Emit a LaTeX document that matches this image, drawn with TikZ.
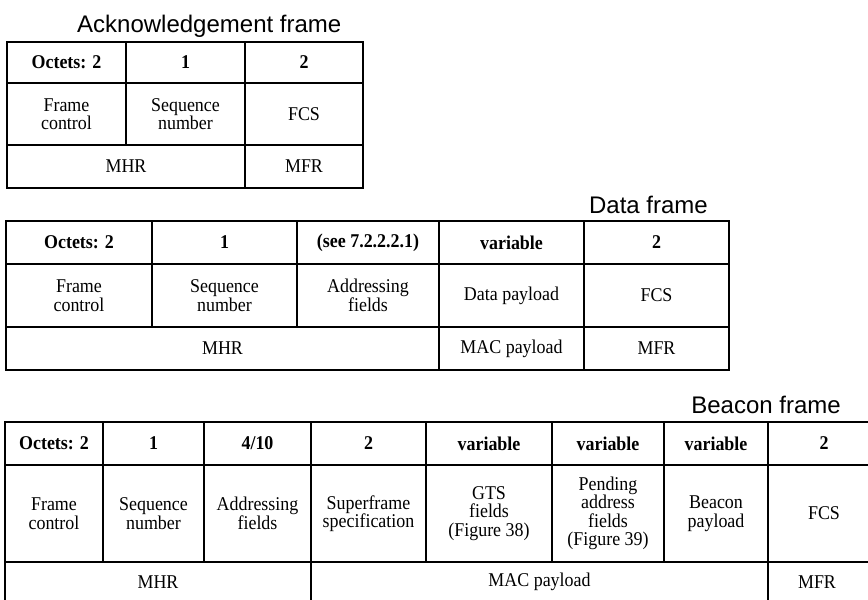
\documentclass[tikz,border=0pt]{standalone}
\usepackage{fontspec}
\setmainfont{Liberation Serif}[FakeStretch=0.92]
\newfontfamily\titlefont{Liberation Sans}
\tikzset{
  cellbox/.style={draw=black, line width=1.3pt, inner sep=0pt, align=center,
    font=\fontsize{19.5}{18.5}\selectfont},
  headbox/.style={cellbox, font=\fontsize{19.5}{18.5}\selectfont\bfseries},
  titletext/.style={font=\titlefont\fontsize{24}{24}\selectfont, inner sep=0pt},
  plaintext/.style={font=\fontsize{19.5}{18.5}\selectfont, inner sep=0pt},
  outerframe/.style={draw=black, line width=2.2pt}
}
% style, name, x1, y1, x2, y2, text
\newcommand\cellat[7]{%
  \node[#1, minimum width={#5-#3}, minimum height={#6-#4}] (#2) at ({(#3+#5)/2},{(#4+#6)/2}) {#7};}
\begin{document}
\begin{tikzpicture}[x=1pt, y=-1pt]
\useasboundingbox (0,0) rectangle (868,600);
\clip (0,0) rectangle (868,600);
% ---------------- Acknowledgement frame
\node[titletext, anchor=base west] (acktitle) at (77,32) {Acknowledgement frame};
\cellat{headbox}{a11}{7}{42}{126}{83}{Octets: 2}
\cellat{headbox}{a12}{126}{42}{245}{83}{1}
\cellat{headbox}{a13}{245}{42}{363}{83}{2}
\cellat{cellbox}{a21}{7}{83}{126}{145}{Frame\\control}
\cellat{cellbox}{a22}{126}{83}{245}{145}{Sequence\\number}
\cellat{cellbox}{a23}{245}{83}{363}{145}{FCS}
\cellat{cellbox}{a31}{7}{145}{245}{188}{MHR}
\cellat{cellbox}{a32}{245}{145}{363}{188}{MFR}
\draw[outerframe] (7,42) rectangle (363,188);
% ---------------- Data frame
\node[titletext, anchor=base east] (datatitle) at (708,213) {Data frame};
\cellat{headbox}{d11}{6}{221}{152}{264}{Octets: 2}
\cellat{headbox}{d12}{152}{221}{297}{264}{1}
\cellat{headbox}{d13}{297}{221}{439}{264}{(see 7.2.2.2.1)}
\cellat{headbox}{d14}{439}{221}{584}{264}{variable}
\cellat{headbox}{d15}{584}{221}{729}{264}{2}
\cellat{cellbox}{d21}{6}{264}{152}{327}{Frame\\control}
\cellat{cellbox}{d22}{152}{264}{297}{327}{Sequence\\number}
\cellat{cellbox}{d23}{297}{264}{439}{327}{Addressing\\fields}
\cellat{cellbox}{d24}{439}{264}{584}{327}{Data payload}
\cellat{cellbox}{d25}{584}{264}{729}{327}{FCS}
\cellat{cellbox}{d31}{6}{327}{439}{370}{MHR}
\cellat{cellbox}{d32}{439}{327}{584}{370}{MAC payload}
\cellat{cellbox}{d33}{584}{327}{729}{370}{MFR}
\draw[outerframe] (6,221) rectangle (729,370);
% ---------------- Beacon frame
\node[titletext, anchor=base east] (beacontitle) at (841,413) {Beacon frame};
\cellat{headbox}{b11}{5}{422}{103}{465}{Octets: 2}
\cellat{headbox}{b12}{103}{422}{204}{465}{1}
\cellat{headbox}{b13}{204}{422}{311}{465}{4/10}
\cellat{headbox}{b14}{311}{422}{426}{465}{2}
\cellat{headbox}{b15}{426}{422}{552}{465}{variable}
\cellat{headbox}{b16}{552}{422}{664}{465}{variable}
\cellat{headbox}{b17}{664}{422}{768}{465}{variable}
\cellat{headbox}{b18}{768}{422}{880}{465}{2}
\cellat{cellbox}{b21}{5}{465}{103}{562}{Frame\\control}
\cellat{cellbox}{b22}{103}{465}{204}{562}{Sequence\\number}
\cellat{cellbox}{b23}{204}{465}{311}{562}{Addressing\\fields}
\cellat{cellbox}{b24}{311}{465}{426}{562}{Superframe\\specification}
\cellat{cellbox}{b25}{426}{465}{552}{562}{GTS\\fields\\(Figure 38)}
\cellat{cellbox}{b26}{552}{465}{664}{562}{Pending\\address\\fields\\(Figure 39)}
\cellat{cellbox}{b27}{664}{465}{768}{562}{Beacon\\payload}
\cellat{cellbox}{b28}{768}{465}{880}{562}{FCS}
\cellat{cellbox}{b31}{5}{562}{311}{620}{}
\cellat{cellbox}{b32}{311}{562}{768}{620}{}
\cellat{cellbox}{b33}{768}{562}{880}{620}{}
\node[plaintext] (b31t) at (158,582) {MHR};
\node[plaintext] (b32t) at (539.5,582) {MAC payload};
\node[plaintext] (b33t) at (817,582) {MFR};
\draw[outerframe] (5,422) rectangle (880,620);
\end{tikzpicture}
\end{document}
